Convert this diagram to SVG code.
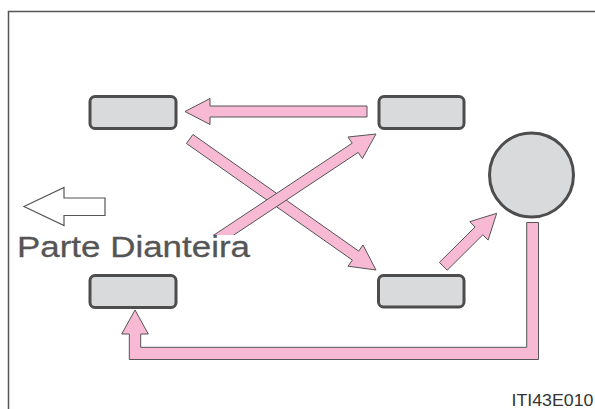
<svg xmlns="http://www.w3.org/2000/svg" width="595" height="409" viewBox="0 0 595 409">
<style>
.wheel{fill:#d9dadc;stroke:#4d4d4d;stroke-width:3}
.arr{fill:#f7b9d3;stroke:#555;stroke-width:1;stroke-linejoin:miter}
.lbl{font-family:"Liberation Sans",Arial,sans-serif;fill:#555}
</style>
<rect x="0" y="0" width="595" height="409" fill="#fff"/>
<path d="M8.5,409 V11.5 H595" fill="none" stroke="#555" stroke-width="1.5"/>
<g id="connectors">
<polygon class="arr" points="367,106 210,106 210,98.5 185,111.5 210,124.5 210,117 367,117"/>
<polygon class="arr" points="192.9,134.5 358.7,251.1 363,245 376,270 348,266.2 352.4,260.1 186.5,143.5"/>
<polygon class="arr" points="211.8,249.6 358.2,152.4 362.4,158.6 376,134 348,137 352.2,143.2 205.8,240.4"/>
<polygon class="arr" points="447.2,270.2 482.8,234.8 488.1,240.1 496.7,213.3 469.8,221.7 475.1,227 439.4,262.4"/>
<polygon class="arr" points="538.5,222.5 538.5,359.5 129.3,359.5 129.3,334 121.7,334 135,310 148.3,334 140.7,334 140.7,347.3 526.7,347.3 526.7,222.5"/>
</g>
<g id="front-label">
<polygon points="24,206.5 64,187.5 64,198 105,198 105,215.5 64,215.5 64,225.5" fill="#fff" stroke="#555" stroke-width="1.2"/>
<rect x="14" y="235" width="242" height="28" fill="#fff"/>
<text class="lbl" x="17" y="256.7" font-size="30" textLength="233" lengthAdjust="spacingAndGlyphs" stroke="#555" stroke-width="0.3">Parte Dianteira</text>
</g>
<g id="wheel-front-left"><rect class="wheel" x="90" y="96.5" width="86" height="32" rx="5"/></g>
<g id="wheel-front-right"><rect class="wheel" x="379" y="96.5" width="85" height="32" rx="5"/></g>
<g id="wheel-rear-left"><rect class="wheel" x="90" y="275.5" width="86" height="32" rx="5"/></g>
<g id="wheel-rear-right"><rect class="wheel" x="378.5" y="275.5" width="85.5" height="31.5" rx="5"/></g>
<g id="spare"><ellipse class="wheel" cx="531.5" cy="175" rx="42" ry="42"/></g>
<text x="511.5" y="406.3" font-size="17" font-family="Liberation Sans,Arial,sans-serif" fill="#333" textLength="82" lengthAdjust="spacingAndGlyphs">ITI43E010</text>
</svg>
